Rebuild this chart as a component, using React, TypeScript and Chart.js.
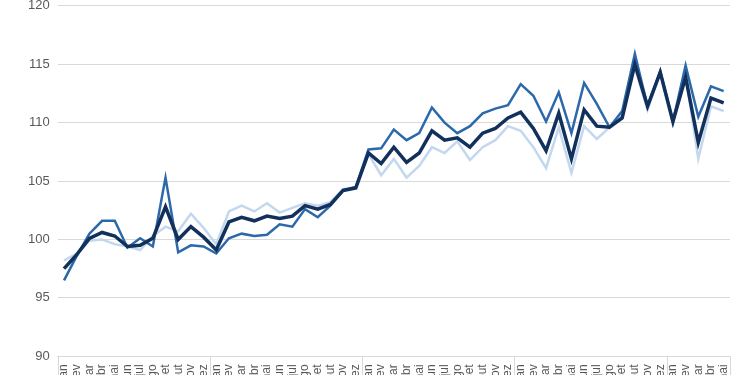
import React, { useEffect, useRef } from "react";
import { Chart, registerables } from "chart.js";

Chart.register(...registerables);

const months = ["jan", "fev", "mar", "abr", "mai", "jun", "jul", "ago", "set", "out", "nov", "dez"];
const years = ["2019", "2020", "2021", "2022", "2023"];
const pointCount = 53;
const categories: string[] = years.flatMap(() => months).slice(0, pointCount);

const seriesNavy = [
  97.5, 98.7, 100.1, 100.6, 100.3, 99.4, 99.5, 100.1, 102.8, 100.0, 101.1, 100.2,
  99.1, 101.5, 101.9, 101.6, 102.0, 101.8, 102.0, 102.9, 102.6, 103.0, 104.2, 104.4,
  107.4, 106.5, 107.9, 106.6, 107.4, 109.3, 108.5, 108.7, 107.9, 109.1, 109.5, 110.4,
  110.9, 109.5, 107.6, 110.8, 106.9, 111.1, 109.7, 109.6, 110.4, 115.0, 111.4, 114.3,
  110.1, 113.9, 108.3, 112.1, 111.7,
];

const seriesMedium = [
  96.5, 98.6, 100.5, 101.6, 101.6, 99.3, 100.1, 99.4, 105.3, 98.9, 99.5, 99.4,
  98.8, 100.1, 100.5, 100.3, 100.4, 101.3, 101.1, 102.6, 101.9, 102.9, 104.2, 104.5,
  107.7, 107.8, 109.4, 108.5, 109.1, 111.3, 110.0, 109.1, 109.7, 110.8, 111.2, 111.5,
  113.3, 112.3, 110.1, 112.6, 109.1, 113.4, 111.6, 109.6, 111.0, 115.9, 111.4, 114.4,
  110.1, 114.9, 110.5, 113.1, 112.7,
];

const seriesLight = [
  98.2, 98.8, 99.9, 100.0, 99.6, 99.4, 99.1, 100.3, 101.1, 100.7, 102.2, 101.0,
  99.6, 102.4, 102.9, 102.4, 103.1, 102.3, 102.7, 103.1, 102.9, 103.2, 104.3, 104.5,
  107.3, 105.5, 106.9, 105.3, 106.3, 107.9, 107.4, 108.4, 106.8, 107.9, 108.5, 109.7,
  109.3, 107.9, 106.1, 109.6, 105.7, 109.7, 108.6, 109.6, 110.8, 114.7, 111.1, 114.3,
  109.9, 114.1, 106.9, 111.4, 111.0,
];

const yMin = 90;
const yMax = 120;
const yStep = 5;
const monthsPerYear = 12;

const yearSeparators = {
  id: "yearSeparators",
  afterDraw(chart: any) {
    const xs = chart.scales.x;
    const ctx = chart.ctx;
    const n = chart.data.labels.length;
    const half = (xs.getPixelForValue(1) - xs.getPixelForValue(0)) / 2;
    ctx.save();
    ctx.strokeStyle = "#d9d9d9";
    ctx.lineWidth = 1;
    const positions: number[] = [];
    for (let i = 0; i < n; i += monthsPerYear) positions.push(xs.getPixelForValue(i) - half);
    positions.push(xs.getPixelForValue(n - 1) + half);
    positions.forEach((px) => {
      const x = Math.round(px) + 0.5;
      ctx.beginPath();
      ctx.moveTo(x, xs.top);
      ctx.lineTo(x, chart.height);
      ctx.stroke();
    });
    ctx.restore();
  },
};

export default function App() {
  const canvasRef = useRef<HTMLCanvasElement | null>(null);

  useEffect(() => {
    const canvas = canvasRef.current;
    if (!canvas) return;
    const chart = new Chart(canvas, {
      type: "line",
      data: {
        labels: categories,
        datasets: [
          { data: seriesNavy, borderColor: "#12305c", borderWidth: 3.5, pointRadius: 0, tension: 0, fill: false },
          { data: seriesMedium, borderColor: "#2b69ab", borderWidth: 2.5, pointRadius: 0, tension: 0, fill: false },
          { data: seriesLight, borderColor: "#c3d8ee", borderWidth: 2.5, pointRadius: 0, tension: 0, fill: false },
        ],
      },
      options: {
        responsive: false,
        animation: false,
        layout: { padding: { left: 20, right: 20, top: 0, bottom: 0 } },
        plugins: { legend: { display: false }, tooltip: { enabled: false } },
        scales: {
          x: {
            offset: true,
            grid: { display: false, drawTicks: false },
            border: { display: true, color: "#d9d9d9" },
            ticks: {
              autoSkip: false,
              minRotation: 90,
              maxRotation: 90,
              padding: 8,
              color: "#595959",
              font: { family: "'Liberation Sans', Arial, sans-serif", size: 12 },
            },
          },
          y: {
            min: yMin,
            max: yMax,
            grid: { color: "#d9d9d9", drawTicks: false },
            border: { display: false },
            ticks: {
              stepSize: yStep,
              padding: 8,
              color: "#595959",
              font: { family: "'Liberation Sans', Arial, sans-serif", size: 13 },
            },
          },
        },
      },
      plugins: [yearSeparators],
    });
    return () => chart.destroy();
  }, []);

  return (
    <div style={{ position: "absolute", left: 0, top: 0, width: 750, height: 375, overflow: "hidden", background: "#fff" }}>
      <canvas
        ref={canvasRef}
        width={750}
        height={403}
        style={{ display: "block", position: "absolute", left: 0, top: -10 }}
      />
    </div>
  );
}
